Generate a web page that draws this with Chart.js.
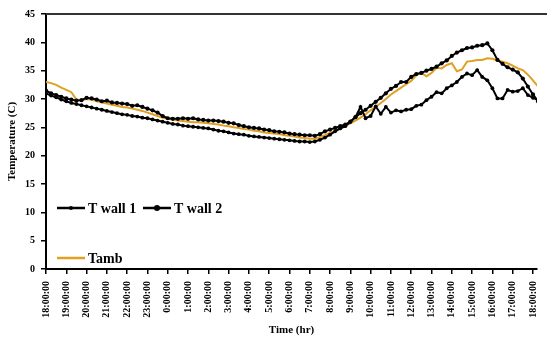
<!DOCTYPE html>
<html>
<head>
<meta charset="utf-8">
<script src="https://cdn.jsdelivr.net/npm/chart.js@4/dist/chart.umd.min.js"></script>
<style>
    html, body { margin: 0; padding: 0; background: #fff; overflow: hidden; }
    #caja { width: 552px; height: 339px; }
</style>
</head>
<body>
<div id="caja"><canvas id="myChart"></canvas></div>
<script>
// horas desde las 18:00, cada 15 minutos
const pasoHoras = 0.25
const horaInicio = 18

const tAmb = [
    33.0, 32.8, 32.5, 32.0, 31.6, 31.2, 29.9, 29.8,
    30.0, 29.9, 29.6, 29.4, 29.2, 29.0, 28.8, 28.6,
    28.5, 28.3, 28.1, 27.9, 27.6, 27.3, 27.0, 26.7,
    26.5, 26.4, 26.2, 26.1, 26.0, 25.9, 25.9, 25.8,
    25.7, 25.6, 25.5, 25.3, 25.2, 25.0, 24.9, 24.7,
    24.6, 24.4, 24.3, 24.1, 24.0, 23.9, 23.8, 23.6,
    23.5, 23.4, 23.2, 23.1, 23.0, 23.0, 23.3, 23.6,
    24.0, 24.4, 24.8, 25.2, 25.7, 26.2, 26.7, 27.3,
    28.0, 28.6, 29.3, 30.0, 30.8, 31.4, 32.0, 32.6,
    33.2, 34.2, 34.6, 34.0, 34.6, 35.5, 35.4, 36.0,
    36.3, 34.9, 35.2, 36.6, 36.7, 36.9, 36.9, 37.2,
    37.1, 36.8, 36.6, 36.3, 35.9, 35.4, 35.1, 34.3,
    33.3, 32.2
]

const tWall1 = [
    31.0, 30.6, 30.3, 29.9, 29.6, 29.3, 29.1, 28.9,
    28.7, 28.5, 28.3, 28.1, 27.9, 27.7, 27.5, 27.3,
    27.2, 27.0, 26.9, 26.7, 26.6, 26.4, 26.2, 26.0,
    25.8, 25.6, 25.5, 25.3, 25.2, 25.1, 25.0, 24.9,
    24.8, 24.6, 24.4, 24.3, 24.1, 23.9, 23.8, 23.7,
    23.5, 23.4, 23.3, 23.2, 23.1, 23.0, 22.9, 22.8,
    22.7, 22.6, 22.5, 22.5, 22.4, 22.5, 22.8, 23.2,
    23.7, 24.3, 24.8, 25.2, 26.0, 26.8, 28.6, 26.6,
    27.0, 28.7, 27.4, 28.6, 27.6, 28.0, 27.8, 28.1,
    28.2, 28.8, 29.0, 29.8, 30.4, 31.2, 31.0, 31.9,
    32.4, 33.0, 33.9, 34.5, 34.2, 35.1, 33.9, 33.3,
    31.9, 30.1, 30.1, 31.6, 31.3, 31.4, 31.9, 30.7,
    30.2, 29.8
]

const tWall2 = [
    31.5, 31.0, 30.7, 30.4, 30.1, 29.9, 29.7, 29.8,
    30.2, 30.1, 29.9, 29.6, 29.7, 29.4, 29.3, 29.2,
    29.1, 28.8, 28.9, 28.6, 28.3, 28.0, 27.6, 27.0,
    26.6, 26.5, 26.5, 26.6, 26.5, 26.6, 26.4, 26.3,
    26.2, 26.2, 26.1, 26.0, 25.8, 25.7, 25.4, 25.2,
    25.0, 24.9, 24.8, 24.6, 24.5, 24.3, 24.2, 24.1,
    23.9, 23.8, 23.7, 23.6, 23.6, 23.5, 23.8, 24.3,
    24.6, 24.9, 25.2, 25.5, 26.0, 26.8, 27.5, 28.1,
    28.8, 29.5, 30.2, 31.0, 31.8, 32.3, 33.0, 33.0,
    33.9, 34.4, 34.6, 35.0, 35.3, 35.7, 36.3, 36.8,
    37.6, 38.2, 38.6, 39.0, 39.1, 39.4, 39.5, 39.8,
    38.6, 36.9, 36.2, 35.6, 35.2, 34.7, 33.6, 32.2,
    30.8, 29.6
]

const naranja = '#E1A022'
const fuente = '"Liberation Serif", "Times New Roman", serif'

function armarPuntos(valores) {
    return valores.map((v, i) => ({ x: i * pasoHoras, y: v }))
}

function etiquetaHora(valor) {
    return ((horaInicio + valor) % 24) + ':00:00'
}

// leyenda dentro del area del grafico, como en la figura
const leyenda = {
    id: 'leyenda',
    afterDraw(chart) {
        const ctx = chart.ctx
        const area = chart.chartArea
        const items = [
            { ds: 0, dx: 11, y: 208, radio: 2 },
            { ds: 1, dx: 97, y: 208, radio: 3 },
            { ds: 2, dx: 11, y: 258, radio: 0 }
        ]
        ctx.save()
        // borde superior
        ctx.strokeStyle = '#333'
        ctx.lineWidth = 2
        ctx.beginPath()
        ctx.moveTo(area.left, area.top)
        ctx.lineTo(chart.width, area.top)
        ctx.stroke()

        ctx.font = 'bold 14px ' + fuente
        ctx.textBaseline = 'middle'
        items.forEach(it => {
            const ds = chart.data.datasets[it.ds]
            const x0 = area.left + it.dx
            ctx.strokeStyle = ds.borderColor
            ctx.lineWidth = 2.5
            ctx.beginPath()
            ctx.moveTo(x0, it.y)
            ctx.lineTo(x0 + 28, it.y)
            ctx.stroke()
            if (it.radio > 0) {
                ctx.fillStyle = ds.borderColor
                ctx.beginPath()
                ctx.arc(x0 + 14, it.y, it.radio, 0, Math.PI * 2)
                ctx.fill()
            }
            ctx.fillStyle = '#000'
            ctx.fillText(ds.label, x0 + 31, it.y + 1)
        })
        ctx.restore()
    }
}

let graph = document.querySelector('#myChart')

const datas = {
    datasets: [
        {
            label: 'T wall 1',
            data: armarPuntos(tWall1),
            borderColor: '#000',
            backgroundColor: '#000',
            borderWidth: 2,
            pointRadius: 1.9,
            pointBorderWidth: 0,
            fill: false,
            tension: 0
        },
        {
            label: 'T wall 2',
            data: armarPuntos(tWall2),
            borderColor: '#000',
            backgroundColor: '#000',
            borderWidth: 2,
            pointRadius: 2.1,
            pointBorderWidth: 0,
            fill: false,
            tension: 0
        },
        {
            label: 'Tamb',
            data: armarPuntos(tAmb),
            borderColor: naranja,
            backgroundColor: naranja,
            borderWidth: 2,
            pointRadius: 0,
            fill: false,
            tension: 0
        }
    ]
}

const config = {
    type: 'line',
    data: datas,
    plugins: [leyenda],
    options: {
        responsive: true,
        maintainAspectRatio: false,
        animation: false,
        layout: { padding: { top: 14, right: 4, left: 0, bottom: 0 } },
        plugins: {
            legend: { display: false },
            tooltip: { enabled: false }
        },
        scales: {
            x: {
                type: 'linear',
                min: 0,
                max: 24.2,
                afterFit: s => { s.height = 70 },
                border: { display: true, color: '#000', width: 2 },
                grid: { drawOnChartArea: false, drawTicks: true, tickLength: 5, color: '#000', lineWidth: 1.5 },
                ticks: {
                    stepSize: 1,
                    includeBounds: false,
                    autoSkip: false,
                    maxRotation: 90,
                    minRotation: 90,
                    padding: 7,
                    color: '#000',
                    font: { family: fuente, size: 10, weight: 'bold' },
                    callback: etiquetaHora
                },
                title: {
                    display: true,
                    text: 'Time (hr)',
                    color: '#000',
                    font: { family: fuente, size: 11, weight: 'bold' },
                    padding: { top: 0, bottom: 2 }
                }
            },
            y: {
                min: 0,
                max: 45,
                afterFit: s => { s.width = 46 },
                border: { display: true, color: '#000', width: 2 },
                grid: { drawOnChartArea: false, drawTicks: true, tickLength: 5, color: '#000', lineWidth: 1.5 },
                ticks: {
                    stepSize: 5,
                    padding: 6,
                    color: '#000',
                    font: { family: fuente, size: 10, weight: 'bold' }
                },
                title: {
                    display: true,
                    text: 'Temperature (C)',
                    color: '#000',
                    font: { family: fuente, size: 11, weight: 'bold' },
                    padding: { top: 6, bottom: 0 }
                }
            }
        }
    }
}

let graf = new Chart(graph, config)
</script>
</body>
</html>
